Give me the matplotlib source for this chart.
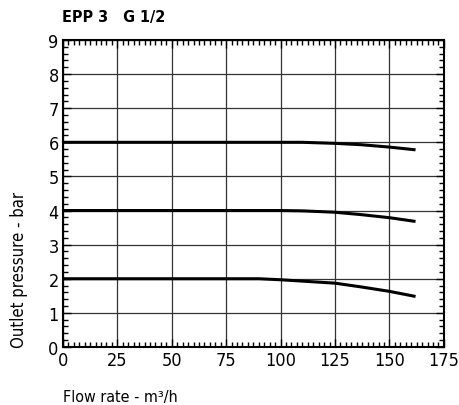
import numpy as np
import matplotlib.pyplot as plt
from matplotlib.ticker import MultipleLocator

plt.rcParams['font.family'] = ['DejaVu Sans']
plt.rcParams['font.stretch'] = 'condensed'

# flow rate (m3/h) and outlet pressure (bar)
flow = [0, 25, 50, 75, 90, 100, 110, 125, 137, 150, 162]
p6 = [6.0, 6.0, 6.0, 6.0, 6.0, 6.0, 6.0, 5.97, 5.93, 5.86, 5.78]
p4 = [4.0, 4.0, 4.0, 4.0, 4.0, 4.0, 3.99, 3.95, 3.88, 3.79, 3.68]
p2 = [2.0, 2.0, 2.0, 2.0, 2.0, 1.97, 1.93, 1.87, 1.76, 1.63, 1.48]

fig = plt.figure(figsize=(4.59, 4.06), dpi=100)
ax = fig.add_axes([0.137, 0.143, 0.830, 0.756])

for p in (p6, p4, p2):
    ax.plot(flow, p, color='black', lw=2.2, solid_capstyle='butt')

ax.set_xlim(0, 175)
ax.set_ylim(0, 9)
ax.xaxis.set_major_locator(MultipleLocator(25))
ax.xaxis.set_minor_locator(MultipleLocator(2.5))
ax.yaxis.set_major_locator(MultipleLocator(1))
ax.yaxis.set_minor_locator(MultipleLocator(0.2))
ax.tick_params(which='both', direction='in', top=True, right=True, width=1)
ax.tick_params(which='major', length=6, labelsize=13, pad=3)
ax.tick_params(which='minor', length=3.5)
ax.grid(True, which='major', color='#333333', lw=0.9)
for s in ax.spines.values():
    s.set_linewidth(1.5)

ax.set_xlabel('Flow rate - m³/h', fontsize=11.5, loc='left', labelpad=14)
ax.set_ylabel('Outlet pressure - bar', fontsize=12, loc='bottom', labelpad=15)
fig.text(0.135, 0.957, 'EPP 3   G 1/2', fontsize=11.5, fontweight='bold', va='center')

fig.savefig('out.png', dpi=100)
